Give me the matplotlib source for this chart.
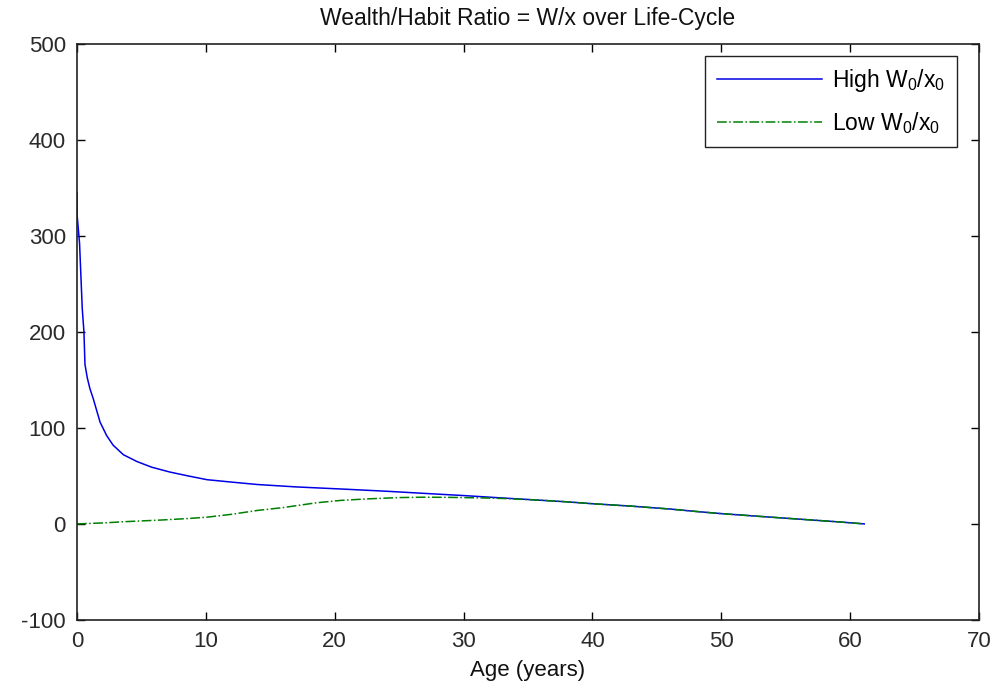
import numpy as np
import matplotlib
matplotlib.use("Agg")
import matplotlib.pyplot as plt

plt.rcParams['font.family'] = ['Liberation Sans', 'DejaVu Sans']
plt.rcParams['mathtext.fontset'] = 'custom'
plt.rcParams['mathtext.rm'] = 'Liberation Sans'
plt.rcParams['axes.unicode_minus'] = False

# wealth/habit ratio, high initial endowment
age_high = [0, 0.02, 0.2, 0.41, 0.54, 0.62, 0.8, 1.0, 1.27, 1.79, 2.3, 2.8, 3.6,
            4.64, 5.8, 7.2, 8.6, 10.1, 12, 14, 17, 21, 24, 27.3, 30, 33, 35.5,
            38, 40, 43, 46, 48.4, 50, 53, 56, 59, 61.1]
ratio_high = [345, 320, 292, 224, 200, 166, 152, 141, 130, 106, 92, 82, 72,
              65, 59, 54, 50, 46, 43.5, 41, 38.5, 36, 34, 31.5, 29.5, 27, 25,
              23, 21, 18.5, 15.5, 12.5, 10.7, 7.8, 5, 2.2, 0]

# wealth/habit ratio, low initial endowment
age_low = [0, 2, 4, 6.5, 8.5, 10.1, 12, 14, 16, 18.6, 20.5, 22.5, 25, 27,
           29, 31.6, 33, 35.5, 38, 40, 43, 46, 48.4, 50, 53, 56, 59, 61.1]
ratio_low = [0, 1, 2.5, 4, 5.5, 7, 10, 14, 17, 22, 24.5, 26, 27.4, 27.8,
             27.6, 27, 26.5, 25, 23, 21, 18.5, 15.5, 12.5, 10.7, 7.8, 5, 2.2, 0]

fig = plt.figure(figsize=(10.01, 6.84), dpi=100)
ax = fig.add_axes([0.0769, 0.0936, 0.9011, 0.8428])

ax.plot(age_high, ratio_high, color=(0, 0, 0.9), lw=1.1,
        label=r'High W$_\mathregular{0}$/x$_\mathregular{0}$')
ax.plot(age_low, ratio_low, color=(0, 0.5, 0), lw=1.1, linestyle='-.',
        label=r'Low W$_\mathregular{0}$/x$_\mathregular{0}$')

ax.set_xlim(0, 70)
ax.set_ylim(-100, 500)
ax.set_xticks(np.arange(0, 71, 10))
ax.set_yticks(np.arange(-100, 501, 100))
ax.tick_params(direction='in', length=6, width=1, top=True, right=True,
               labelsize=16, labelcolor='#2a2a2a', pad=8)
for s in ax.spines.values():
    s.set_linewidth(1.2)
    s.set_color('#222222')

ax.set_title('Wealth/Habit Ratio = W/x over Life-Cycle', fontsize=16.5,
             color='#111111', pad=13)
ax.set_xlabel('Age (years)', fontsize=16, color='#111111', labelpad=6)

leg = ax.legend(loc='upper right', bbox_to_anchor=(0.9756, 0.979),
                fontsize=16.5, handlelength=4.6, borderaxespad=0,
                fancybox=False, framealpha=1,
                handletextpad=0.45, labelspacing=0.7, borderpad=0.5)
leg.get_frame().set_edgecolor('#222222')
leg.get_frame().set_linewidth(1.0)

fig.savefig('out.png', dpi=100)
